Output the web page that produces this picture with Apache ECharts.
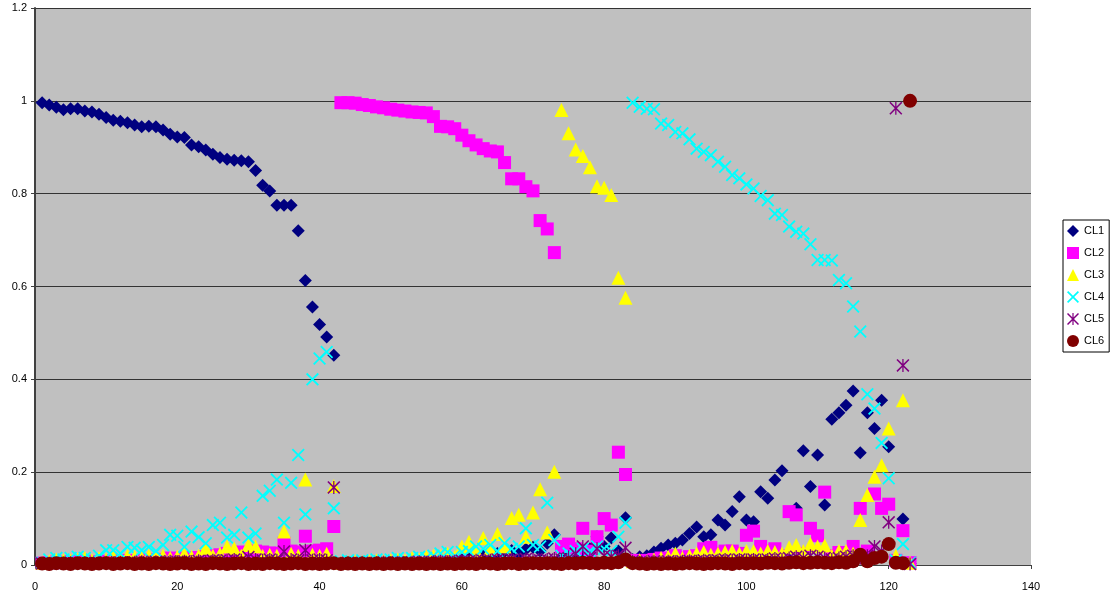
<!DOCTYPE html>
<html>
<head>
    <meta charset="utf-8">
    <title>CL scatter</title>
    <script src="https://cdn.jsdelivr.net/npm/echarts@6/dist/echarts.min.js"></script>
    <style>
        html, body { margin: 0; padding: 0; background: #fff; }
    </style>
</head>
<body>
    <div id="main" style="width: 1112px;height:601px;"></div>
    <script type="text/javascript">
    // one value per sample, sample number = position in the list (1..123)
    var seriesNames = ['CL1', 'CL2', 'CL3', 'CL4', 'CL5', 'CL6'];

    var cl1 = [
        0.996, 0.991, 0.986, 0.981, 0.983, 0.983, 0.978, 0.976, 0.971, 0.964,
        0.958, 0.956, 0.953, 0.948, 0.944, 0.945, 0.944, 0.937, 0.928, 0.922,
        0.921, 0.905, 0.901, 0.894, 0.885, 0.878, 0.874, 0.872, 0.871, 0.869,
        0.850, 0.818, 0.806, 0.775, 0.775, 0.775, 0.720, 0.613, 0.556, 0.518,
        0.491, 0.452, 0.004, 0.005, 0.004, 0.006, 0.005, 0.004, 0.006, 0.005,
        0.006, 0.005, 0.007, 0.006, 0.008, 0.007, 0.009, 0.008, 0.010, 0.012,
        0.015, 0.014, 0.020, 0.018, 0.025, 0.029, 0.031, 0.025, 0.034, 0.038,
        0.030, 0.047, 0.065, 0.015, 0.020, 0.025, 0.030, 0.035, 0.061, 0.040,
        0.058, 0.030, 0.102, 0.012, 0.018, 0.020, 0.028, 0.036, 0.043, 0.047,
        0.054, 0.068, 0.082, 0.061, 0.065, 0.097, 0.086, 0.115, 0.147, 0.097,
        0.093, 0.158, 0.144, 0.183, 0.203, 0.012, 0.122, 0.246, 0.169, 0.237,
        0.129, 0.314, 0.328, 0.344, 0.375, 0.242, 0.328, 0.294, 0.355, 0.255,
        0.010, 0.099, 0.003
    ];
    var cl2 = [
        0.004, 0.005, 0.006, 0.005, 0.007, 0.006, 0.008, 0.006, 0.007, 0.008,
        0.009, 0.008, 0.010, 0.009, 0.010, 0.011, 0.010, 0.012, 0.015, 0.014,
        0.015, 0.016, 0.014, 0.018, 0.020, 0.022, 0.025, 0.024, 0.028, 0.026,
        0.030, 0.028, 0.026, 0.025, 0.047, 0.030, 0.028, 0.062, 0.030, 0.032,
        0.035, 0.083, 0.996, 0.996, 0.995, 0.992, 0.990, 0.987, 0.985, 0.982,
        0.980, 0.978, 0.976, 0.975, 0.974, 0.966, 0.945, 0.944, 0.940, 0.926,
        0.914, 0.905, 0.897, 0.892, 0.890, 0.867, 0.832, 0.832, 0.815, 0.806,
        0.742, 0.724, 0.673, 0.040, 0.045, 0.035, 0.079, 0.030, 0.061, 0.100,
        0.086, 0.243, 0.195, 0.010, 0.008, 0.010, 0.012, 0.015, 0.012, 0.020,
        0.015, 0.018, 0.020, 0.035, 0.038, 0.025, 0.030, 0.030, 0.025, 0.064,
        0.073, 0.040, 0.030, 0.035, 0.020, 0.115, 0.108, 0.025, 0.079, 0.063,
        0.157, 0.020, 0.027, 0.025, 0.040, 0.122, 0.030, 0.153, 0.122, 0.131,
        0.010, 0.074, 0.005
    ];
    var cl3 = [
        0.005, 0.008, 0.012, 0.010, 0.010, 0.012, 0.015, 0.010, 0.015, 0.012,
        0.018, 0.015, 0.020, 0.018, 0.015, 0.020, 0.018, 0.020, 0.015, 0.018,
        0.024, 0.018, 0.020, 0.036, 0.020, 0.024, 0.040, 0.036, 0.020, 0.043,
        0.040, 0.020, 0.022, 0.020, 0.072, 0.024, 0.020, 0.184, 0.022, 0.020,
        0.024, 0.170, 0.005, 0.006, 0.008, 0.006, 0.008, 0.010, 0.008, 0.010,
        0.012, 0.010, 0.015, 0.012, 0.018, 0.020, 0.020, 0.025, 0.018, 0.040,
        0.050, 0.030, 0.058, 0.035, 0.067, 0.040, 0.101, 0.108, 0.061, 0.113,
        0.163, 0.070, 0.201, 0.980, 0.930, 0.895, 0.881, 0.857, 0.816, 0.813,
        0.797, 0.619, 0.576, 0.008, 0.010, 0.008, 0.012, 0.015, 0.018, 0.025,
        0.015, 0.020, 0.025, 0.028, 0.022, 0.025, 0.028, 0.030, 0.025, 0.030,
        0.030, 0.025, 0.030, 0.028, 0.025, 0.038, 0.043, 0.030, 0.045, 0.040,
        0.042, 0.020, 0.030, 0.030, 0.025, 0.097, 0.151, 0.190, 0.215, 0.294,
        0.020, 0.355, 0.005
    ];
    var cl4 = [
        0.005, 0.012, 0.015, 0.012, 0.015, 0.018, 0.015, 0.012, 0.020, 0.032,
        0.032, 0.025, 0.039, 0.037, 0.032, 0.039, 0.030, 0.043, 0.065, 0.063,
        0.039, 0.072, 0.060, 0.047, 0.086, 0.091, 0.059, 0.065, 0.113, 0.059,
        0.068, 0.149, 0.160, 0.184, 0.091, 0.177, 0.237, 0.109, 0.400, 0.445,
        0.459, 0.122, 0.008, 0.010, 0.006, 0.010, 0.008, 0.012, 0.010, 0.012,
        0.015, 0.012, 0.015, 0.018, 0.015, 0.020, 0.025, 0.028, 0.020, 0.028,
        0.030, 0.040, 0.035, 0.043, 0.030, 0.047, 0.035, 0.040, 0.079, 0.043,
        0.040, 0.134, 0.054, 0.020, 0.025, 0.030, 0.035, 0.030, 0.040, 0.035,
        0.030, 0.061, 0.091, 0.996, 0.987, 0.983, 0.982, 0.951, 0.948, 0.933,
        0.930, 0.917, 0.897, 0.890, 0.883, 0.869, 0.858, 0.840, 0.833, 0.820,
        0.811, 0.795, 0.786, 0.757, 0.754, 0.729, 0.718, 0.714, 0.691, 0.657,
        0.657, 0.656, 0.614, 0.607, 0.557, 0.503, 0.368, 0.337, 0.263, 0.187,
        0.010, 0.045, 0.005
    ];
    var cl5 = [
        0.003, 0.004, 0.003, 0.004, 0.005, 0.004, 0.005, 0.004, 0.005, 0.006,
        0.005, 0.006, 0.005, 0.006, 0.007, 0.006, 0.007, 0.006, 0.008, 0.007,
        0.008, 0.007, 0.009, 0.008, 0.010, 0.009, 0.010, 0.012, 0.010, 0.017,
        0.012, 0.010, 0.012, 0.010, 0.029, 0.012, 0.010, 0.032, 0.010, 0.012,
        0.010, 0.167, 0.004, 0.005, 0.004, 0.005, 0.004, 0.005, 0.006, 0.005,
        0.006, 0.005, 0.006, 0.007, 0.006, 0.007, 0.008, 0.007, 0.008, 0.009,
        0.008, 0.010, 0.009, 0.010, 0.012, 0.010, 0.012, 0.010, 0.013, 0.012,
        0.010, 0.012, 0.014, 0.012, 0.015, 0.024, 0.040, 0.015, 0.035, 0.020,
        0.018, 0.020, 0.037, 0.008, 0.006, 0.007, 0.008, 0.006, 0.008, 0.007,
        0.008, 0.009, 0.008, 0.010, 0.009, 0.010, 0.012, 0.010, 0.012, 0.011,
        0.012, 0.010, 0.012, 0.014, 0.012, 0.015, 0.018, 0.015, 0.020, 0.018,
        0.015, 0.012, 0.015, 0.018, 0.020, 0.015, 0.020, 0.040, 0.030, 0.092,
        0.984, 0.430, 0.002
    ];
    var cl6 = [
        0.003, 0.002, 0.004, 0.003, 0.002, 0.004, 0.003, 0.002, 0.003, 0.004,
        0.002, 0.003, 0.004, 0.002, 0.003, 0.002, 0.004, 0.003, 0.002, 0.003,
        0.004, 0.002, 0.003, 0.002, 0.004, 0.003, 0.002, 0.003, 0.004, 0.002,
        0.003, 0.002, 0.004, 0.003, 0.002, 0.003, 0.004, 0.002, 0.003, 0.002,
        0.003, 0.004, 0.002, 0.003, 0.002, 0.003, 0.002, 0.003, 0.002, 0.003,
        0.002, 0.003, 0.002, 0.003, 0.002, 0.003, 0.002, 0.003, 0.002, 0.003,
        0.003, 0.002, 0.004, 0.003, 0.002, 0.003, 0.004, 0.002, 0.003, 0.004,
        0.003, 0.004, 0.003, 0.002, 0.004, 0.003, 0.005, 0.004, 0.003, 0.005,
        0.004, 0.006, 0.012, 0.004, 0.003, 0.002, 0.003, 0.002, 0.003, 0.002,
        0.003, 0.004, 0.003, 0.002, 0.003, 0.004, 0.003, 0.002, 0.004, 0.003,
        0.004, 0.003, 0.005, 0.004, 0.003, 0.005, 0.006, 0.004, 0.005, 0.006,
        0.005, 0.004, 0.006, 0.005, 0.008, 0.022, 0.008, 0.015, 0.018, 0.045,
        0.005, 0.004, 1.000
    ];

    var xTicks = [0, 20, 40, 60, 80, 100, 120, 140];
    var yTicks = [0, 0.2, 0.4, 0.6, 0.8, 1, 1.2];

    var allValues = [cl1, cl2, cl3, cl4, cl5, cl6];
    var colors = ['#000080', '#ff00ff', '#ffff00', '#00ffff', '#800080', '#800000'];

    // excel style markers
    var xMark = 'path://M0,1.4 L1.4,0 L7,5.6 L12.6,0 L14,1.4 L8.4,7 L14,12.6 L12.6,14 L7,8.4 L1.4,14 L0,12.6 L5.6,7 Z';
    var starMark = 'path://M0,1.2 L1.2,0 L7,5.8 L12.8,0 L14,1.2 L8.2,7 L14,12.8 L12.8,14 L7,8.2 L1.2,14 L0,12.8 L5.8,7 Z M6.3,0 L7.7,0 L7.7,14 L6.3,14 Z';
    var symbols = ['diamond', 'rect', 'triangle', xMark, starMark, 'circle'];
    var sizes = [13, 13, 14, 13, 13, 14];

    function toPoints(vals) {
        var pts = [];
        for (var i = 0; i < vals.length; i++) {
            pts.push([i + 1, vals[i]]);
        }
        return pts;
    }

    var series = [];
    for (var s = 0; s < seriesNames.length; s++) {
        series.push({
            name: seriesNames[s],
            type: 'scatter',
            symbol: symbols[s],
            symbolSize: sizes[s],
            clip: false,
            itemStyle: { color: colors[s], opacity: 1 },
            emphasis: { disabled: true },
            data: toPoints(allValues[s])
        });
    }

    var myChart = echarts.init(document.getElementById('main'));
    myChart.setOption({
        animation: false,
        backgroundColor: '#ffffff',
        textStyle: { fontFamily: 'Liberation Sans, Arial, sans-serif' },
        grid: {
            left: 35,
            right: 81,
            top: 8,
            bottom: 36,
            show: true,
            backgroundColor: '#c0c0c0',
            borderWidth: 0
        },
        legend: {
            orient: 'vertical',
            left: 1063,
            top: 220,
            padding: [5, 5, 5, 4],
            itemGap: 10,
            itemWidth: 12,
            itemHeight: 12,
            backgroundColor: '#ffffff',
            borderColor: '#000000',
            borderWidth: 1,
            textStyle: { fontSize: 11, color: '#000', fontFamily: 'Liberation Sans, Arial, sans-serif' },
            data: seriesNames
        },
        xAxis: {
            type: 'value',
            min: xTicks[0],
            max: xTicks[xTicks.length - 1],
            interval: 20,
            splitLine: { show: false },
            axisLine: { show: true, onZero: false, lineStyle: { color: '#404040', width: 1 } },
            axisTick: { show: true, length: 4, lineStyle: { color: '#404040' } },
            axisLabel: { margin: 16, fontSize: 11, color: '#000' }
        },
        yAxis: {
            type: 'value',
            min: yTicks[0],
            max: yTicks[yTicks.length - 1],
            interval: 0.2,
            splitLine: { show: true, lineStyle: { color: '#333333', width: 1 } },
            axisLine: { show: true, lineStyle: { color: '#404040', width: 2 } },
            axisTick: { show: true, length: 4, lineStyle: { color: '#404040' } },
            axisLabel: { margin: 8, fontSize: 11, color: '#000' }
        },
        series: series
    });
    </script>
</body>
</html>
